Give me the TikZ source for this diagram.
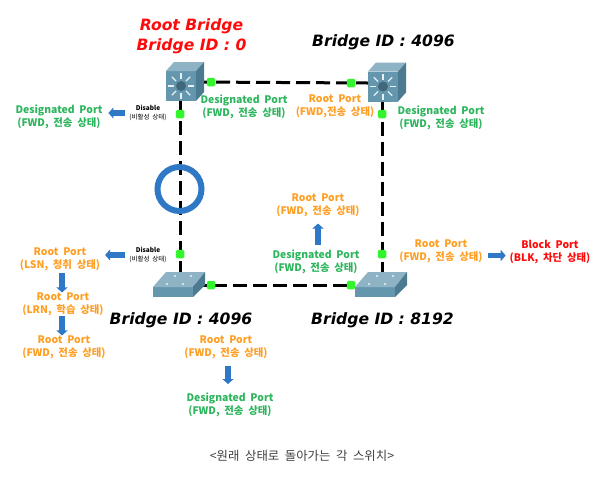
\documentclass[tikz,border=0pt]{standalone}
\usepackage{fontspec}
\setmainfont[WordSpace=2]{Noto Sans CJK KR}
\newfontfamily\bridgefont{DejaVu Sans}
\usetikzlibrary{arrows.meta}
\definecolor{desgreen}{HTML}{2DB55D}
\definecolor{rootorange}{HTML}{FF9E22}
\definecolor{blockred}{HTML}{FF0A0A}
\definecolor{portgreen}{HTML}{33F52E}
\definecolor{arrowblue}{HTML}{2E78C6}
\definecolor{swfront}{HTML}{6497AE}
\definecolor{swtop}{HTML}{8DB3C4}
\definecolor{swside}{HTML}{4C7A90}
\tikzset{
	every node/.style={inner sep=0pt, outer sep=0pt},
	portlabel/.style={align=center, font=\fontsize{10.4}{13}\selectfont\bfseries},
	designated/.style={portlabel, text=desgreen},
	rootlabel/.style={portlabel, text=rootorange},
	blocklabel/.style={portlabel, text=blockred},
	bridgelabel/.style={align=center, font=\fontsize{15.6}{20}\selectfont\bridgefont\bfseries\itshape},
	disablelabel/.style={align=center, font=\fontsize{6.5}{8.5}\selectfont},
	link/.style={line width=3pt, dash pattern=on 14pt off 6pt},
	portdot/.style={fill=portgreen, rounded corners=1.5pt, minimum size=8.5pt},
	blockarrow/.style={-{Triangle[width=11pt,length=5pt]}, line width=5.5pt, arrowblue},
	swbox/.style={minimum width=#1, fill=swfront}
}
\begin{document}
\begin{tikzpicture}[x=1pt, y=-1pt]
	\useasboundingbox (0,0) rectangle (609,480);
	% switches
	\node[swbox=30pt, minimum height=30pt] (rootsw) at (181,86) {};
	\node[swbox=30pt, minimum height=30pt] (sidesw) at (383,86.5) {};
	\node[swbox=40pt, minimum height=10pt] (leftsw) at (173,292) {};
	\node[swbox=40pt, minimum height=10pt] (rightsw) at (375,292) {};
	% links
	\draw[link] ([yshift=4pt]rootsw.east) -- ([yshift=3.5pt]sidesw.west);
	\draw[link] ([xshift=-1pt]rootsw.south) -- ([xshift=7pt]leftsw.north);
	\draw[link] ([xshift=-1pt]sidesw.south) -- ([xshift=7pt]rightsw.north);
	\draw[link] ([yshift=2pt]leftsw.north east) -- ([yshift=2pt]rightsw.north west);
	% cube bodies
	\foreach \sw in {rootsw,sidesw} {
		\fill[swtop] (\sw.north west) -- ++(8,-9) -- ++(30,0) -- (\sw.north east) -- cycle;
		\fill[swside] (\sw.north east) -- ++(8,-9) -- ++(0,30) -- (\sw.south east) -- cycle;
		\foreach \a in {0,45,...,315} {
			\draw[white!85!swfront, line width=1.2pt] (\sw.center) ++(\a:7pt) -- ++(\a:6pt);
		}
		\fill[swside!85!black] (\sw.center) circle (5pt);
	}
	% flat switches
	\foreach \sw in {leftsw,rightsw} {
		\fill[swtop] (\sw.north west) -- ++(13,-15) -- ++(39,0) -- (\sw.north east) -- cycle;
		\fill[swside] (\sw.north east) -- ++(12,-15) -- ++(0,13) -- (\sw.south east) -- cycle;
		\foreach \dx/\dy in {14/-3, 30/-3, 22/-11, 38/-11} {
			\fill[white!85!swtop] (\sw.north west) ++(\dx,\dy) circle (1.2pt);
		}
	}
	% ports
	\foreach \name/\x/\y in {rp1/211/82, rp2/180/114, sp1/351/83, sp2/382/114, lp1/180/254, lp2/211/285, bp1/382/254, bp2/351/285} {
		\node[portdot] (\name) at (\x,\y) {};
	}
	\draw[arrowblue, line width=6pt] (179.5,189) circle (22pt);
	% bridge names
	\node[bridgelabel, text=blockred] (rootname) at (191.5,36.5) {Root Bridge\\Bridge ID : 0};
	\node[bridgelabel] (sidename) at (383.5,42) {Bridge ID : 4096};
	\node[bridgelabel] (leftname) at (181,320) {Bridge ID : 4096};
	\node[bridgelabel] (rightname) at (382.5,320) {Bridge ID : 8192};
	% port states
	\node[designated] (dleft) at (59,116.5) {Designated Port\\(FWD, 전송 상태)};
	\node[designated] (dtop) at (244,106.5) {Designated Port\\(FWD, 전송 상태)};
	\node[rootlabel] (rtop) at (335,106.5) {Root Port\\(FWD,전송 상태)};
	\node[designated] (dside) at (441,117.5) {Designated Port\\(FWD, 전송 상태)};
	\node[rootlabel] (rmid) at (318,205.5) {Root Port\\(FWD, 전송 상태)};
	\node[designated] (dmid) at (316,261.5) {Designated Port\\(FWD, 전송 상태)};
	\node[rootlabel] (rright) at (441,251.5) {Root Port\\(FWD, 전송 상태)};
	\node[blocklabel] (block) at (550,252.5) {Block Port\\(BLK, 차단 상태)};
	\node[rootlabel] (lsn) at (60,259.5) {Root Port\\(LSN, 청취 상태)};
	\node[rootlabel] (lrn) at (63,304.5) {Root Port\\(LRN, 학습 상태)};
	\node[rootlabel] (fwd) at (64,347.5) {Root Port\\(FWD, 전송 상태)};
	\node[rootlabel] (rbot) at (226,347.5) {Root Port\\(FWD, 전송 상태)};
	\node[designated] (dbot) at (230,404.5) {Designated Port\\(FWD, 전송 상태)};
	\node[disablelabel] (distop) at (148,113) {\textbf{Disable}\\(비활성 상태)};
	\node[disablelabel] (disbot) at (148,255) {\textbf{Disable}\\(비활성 상태)};
	% state changes
	\draw[blockarrow, shorten <=4pt, shorten >=6pt] (distop.west) -- (distop.west -| dleft.east);
	\draw[blockarrow, shorten <=4pt, shorten >=5pt] (disbot.west) -- (disbot.west -| lsn.east);
	\draw[blockarrow, shorten <=4.5pt, shorten >=6.5pt] (dmid.north -| rmid.south) -- (rmid.south);
	\draw[blockarrow, shorten <=5pt, shorten >=4pt] ([yshift=-4pt]rright.east) -- ([yshift=-4pt]rright.east -| block.west);
	\draw[blockarrow, shorten <=1.5pt, shorten >=0.5pt] ([xshift=2pt]lsn.south) -- ([xshift=2pt]lsn.south |- lrn.north);
	\draw[blockarrow, shorten <=0pt, shorten >=0.5pt] ([xshift=-1pt]lrn.south) -- ([xshift=-1pt]lrn.south |- fwd.north);
	\draw[blockarrow, shorten <=6.5pt, shorten >=8.5pt] ([xshift=2pt]rbot.south) -- ([xshift=2pt]rbot.south |- dbot.north);
	\node[font=\fontsize{12.4}{15}\selectfont, text=black!75] (caption) at (302,455.5) {<원래 상태로 돌아가는 각 스위치>};
\end{tikzpicture}
\end{document}
